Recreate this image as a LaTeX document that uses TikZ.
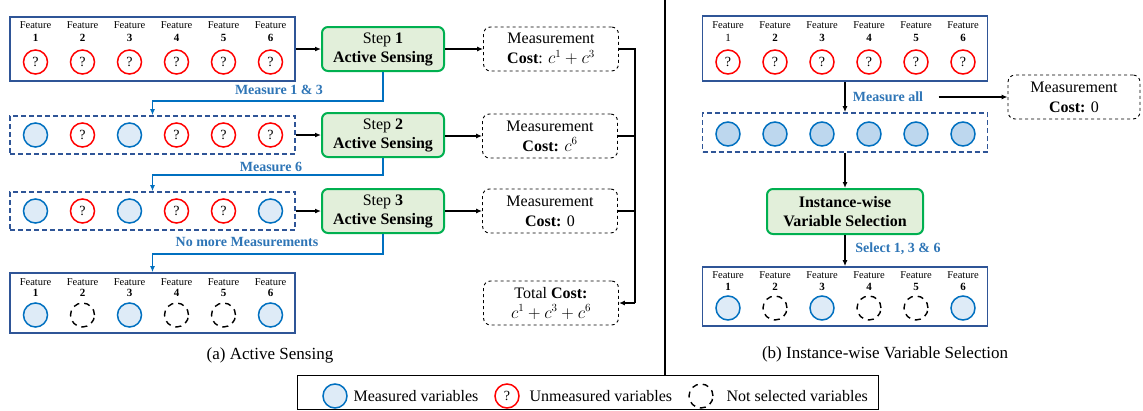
\documentclass[tikz,border=0pt]{standalone}
\usepackage{fontspec}
\setmainfont{Liberation Serif}
\usetikzlibrary{arrows.meta}

\definecolor{boxblue}{HTML}{2F5597}
\definecolor{linkblue}{HTML}{0070C0}
\definecolor{txtblue}{HTML}{2E75B6}
\definecolor{qred}{HTML}{FF0000}
\definecolor{mfill}{HTML}{DEEBF7}
\definecolor{mfilldark}{HTML}{BDD7EE}
\definecolor{stepgreen}{HTML}{00B050}
\definecolor{stepfill}{HTML}{E2EFDA}

\newcommand{\fsize}[1]{\fontsize{#1}{#1}\selectfont}

\tikzset{
  featbox/.style={draw=boxblue, line width=1.6pt, minimum width=285pt, inner sep=0pt},
  featboxd/.style={featbox, dash pattern=on 5pt off 3pt},
  measured/.style={circle, draw=linkblue, fill=mfill, line width=1.5pt, minimum size=24pt, inner sep=0pt},
  unmeasured/.style={circle, draw=qred, line width=1.5pt, minimum size=24pt, inner sep=0pt, font=\fsize{14}},
  notsel/.style={circle, draw=black, line width=1.4pt, dash pattern=on 6pt off 5pt, minimum size=24pt, inner sep=0pt},
  stepbox/.style={draw=stepgreen, fill=stepfill, rounded corners=6pt, line width=2pt, minimum width=122pt, minimum height=44pt, align=center, font=\fontsize{16}{19}\selectfont},
  costbox/.style={draw, dashed, rounded corners=7pt, line width=0.9pt, minimum width=135pt, minimum height=44pt, align=center, font=\fontsize{16}{20}\selectfont},
  link/.style={-{Latex[length=6pt,width=5pt]}, line width=1.2pt},
  bluelink/.style={link, draw=linkblue},
  bluetext/.style={text=txtblue, font=\bfseries\fsize{14}},
  featlabel/.style={font=\fsize{10.5}, inner sep=0pt},
  caption/.style={font=\fsize{17}},
}

\begin{document}
\begin{tikzpicture}[x=1pt, y=-1pt]
  \useasboundingbox (0,0) rectangle (1143,410);

  %(a) Active Sensing
  \node[featbox, minimum height=64pt] (a1) at (152.5,49) {};
  \node[featboxd, minimum height=38pt] (a2) at (152.5,135) {};
  \node[featboxd, minimum height=38pt] (a3) at (152.5,211) {};
  \node[featbox, minimum height=60pt] (a4) at (152.5,303) {};

  \foreach \i in {1,...,6}{
    \node[featlabel] (a1f\i) at ({35.5+47*(\i-1)},25) {Feature};
    \node[featlabel, font=\bfseries\fsize{11}] (a1n\i) at ({35.5+47*(\i-1)},38) {\i};
    \node[unmeasured] (a1c\i) at ({35.5+47*(\i-1)},62) {?};
    \node[featlabel] (a4f\i) at ({35.5+47*(\i-1)},282) {Feature};
    \node[featlabel, font=\bfseries\fsize{11}] (a4n\i) at ({35.5+47*(\i-1)},293) {\i};
  }
  \foreach \i/\s in {1/measured,2/unmeasured,3/measured,4/unmeasured,5/unmeasured,6/unmeasured}
    \node[\s] (a2c\i) at ({35.5+47*(\i-1)},135) {};
  \foreach \i/\s in {1/measured,2/unmeasured,3/measured,4/unmeasured,5/unmeasured,6/measured}
    \node[\s] (a3c\i) at ({35.5+47*(\i-1)},211) {};
  \foreach \i/\s in {1/measured,2/notsel,3/measured,4/notsel,5/notsel,6/measured}
    \node[\s] (a4c\i) at ({35.5+47*(\i-1)},315) {};
  % question marks of rows 2 and 3
  \foreach \i in {2,4,5,6} \node[font=\fsize{14}] at (a2c\i) {?};
  \foreach \i in {2,4,5} \node[font=\fsize{14}] at (a3c\i) {?};

  \node[stepbox] (s1) at (383,49) {Step \textbf{1}\\\textbf{Active Sensing}};
  \node[stepbox] (s2) at (383,135) {Step \textbf{2}\\\textbf{Active Sensing}};
  \node[stepbox] (s3) at (383,211) {Step \textbf{3}\\\textbf{Active Sensing}};

  \node[costbox] (m1) at (551,49) {Measurement\\\textbf{Cost}: $c^1+c^3$};
  \node[costbox] (m2) at (550,136) {Measurement\\\textbf{Cost:} $c^6$};
  \node[costbox] (m3) at (550,211) {Measurement\\\textbf{Cost:} 0};
  \node[costbox] (tot) at (551,303) {Total \textbf{Cost:}\\$c^1+c^3+c^6$};

  \draw[link] (a1) -- (s1);
  \draw[link] (a2) -- (s2);
  \draw[link] (a3) -- (s3);
  \draw[link] (s1) -- (m1);
  \draw[link] (s2.east |- m2) -- (m2);
  \draw[link] (s3) -- (m3);

  % next step
  \draw[bluelink] (s1.south) -- ++(0,29) -| (a2.north);
  \draw[bluelink] (s2.south) -- ++(0,17) -| (a3.north);
  \draw[bluelink] (s3.south) -- ++(0,20) -| (a4.north);
  \node[bluetext] (l1) at (279,90) {Measure 1 \& 3};
  \node[bluetext] (l2) at (271,167) {Measure 6};
  \node[bluetext] (l3) at (247,242) {No more Measurements};

  % costs summed up
  \coordinate (bus) at (635,0);
  \draw[line width=1.2pt] (m1.east) -- (m1.east -| bus) -- (bus |- tot.east);
  \draw[line width=1.2pt] (m2.east) -- (m2.east -| bus);
  \draw[line width=1.2pt] (m3.east) -- (m3.east -| bus);
  \draw[link] (bus |- tot.east) -- (tot.east);

  \node[caption] (capa) at (270,355) {(a) Active Sensing};

  % divider
  \draw[line width=1.5pt] (665,0) -- (665,375);

  %(b) Instance-wise Variable Selection
  \node[featbox, minimum height=65pt] (b1) at (845,48.5) {};
  \node[featboxd, minimum height=39pt] (b2) at (845,132.5) {};
  \node[featbox, minimum height=59pt] (b3) at (845,296.5) {};

  \foreach \i in {1,...,6}{
    \node[featlabel] (b1f\i) at ({728+47*(\i-1)},25) {Feature};
    \node[unmeasured] (b1c\i) at ({728+47*(\i-1)},62) {?};
    \node[measured, fill=mfilldark] (b2c\i) at ({728+47*(\i-1)},134) {};
    \node[featlabel] (b3f\i) at ({728+47*(\i-1)},275) {Feature};
    \node[featlabel, font=\bfseries\fsize{11}] (b3n\i) at ({728+47*(\i-1)},287) {\i};
  }
  \node[featlabel, font=\fsize{11}] (b1n1) at (728,38) {1};
  \foreach \i in {2,...,6}
    \node[featlabel, font=\bfseries\fsize{11}] (b1n\i) at ({728+47*(\i-1)},38) {\i};
  \foreach \i/\s in {1/measured,2/notsel,3/measured,4/notsel,5/notsel,6/measured}
    \node[\s] (b3c\i) at ({728+47*(\i-1)},308) {};

  \node[stepbox, minimum width=156pt, minimum height=45pt, font=\bfseries\fontsize{16}{19}\selectfont] (ivs) at (845,211.5) {Instance-wise\\Variable Selection};
  \node[costbox, minimum width=132pt] (mr) at (1074,97) {Measurement\\\textbf{Cost:} 0};

  \draw[link] (b1) -- (b2);
  \draw[link] (b2) -- (ivs);
  \draw[link] (ivs) -- (b3);
  \node[bluetext] (la) at (888,97) {Measure all};
  \node[bluetext] (ls) at (898,249) {Select 1, 3 \& 6};
  \draw[link] ([xshift=12pt]la.east) -- (mr.west);

  \node[caption] (capb) at (885,354) {(b) Instance-wise Variable Selection};

  % legend
  \draw[line width=0.8pt] (297,375) rectangle (878,409);
  \node[measured] (lg1) at (335,396) {};
  \node[anchor=west, font=\fsize{16}] (lt1) at (350,396) {Measured variables};
  \node[unmeasured] (lg2) at (507,396) {?};
  \node[anchor=west, font=\fsize{16}] (lt2) at (526,396) {Unmeasured variables};
  \node[notsel] (lg3) at (701,396) {};
  \node[anchor=west, font=\fsize{16}] (lt3) at (723,396) {Not selected variables};
\end{tikzpicture}
\end{document}
